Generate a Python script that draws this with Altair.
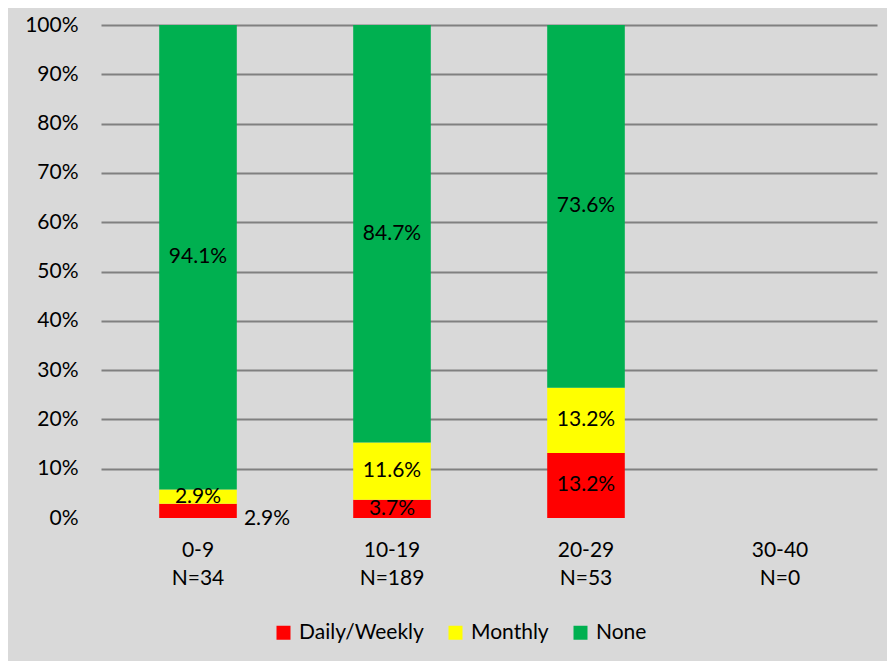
import altair as alt
import pandas as pd

groups = ["0-9", "10-19", "20-29", "30-40"]
n_values = [34, 189, 53, 0]
series = ["Daily/Weekly", "Monthly", "None"]
daily = [2.9, 3.7, 13.2, None]
monthly = [2.9, 11.6, 13.2, None]
none_vals = [94.1, 84.7, 73.6, None]
colors = ["#ff0000", "#ffff00", "#00b050"]
y_ticks = [0, 0.1, 0.2, 0.3, 0.4, 0.5, 0.6, 0.7, 0.8, 0.9, 1.0]

domain = [f"{g}|N={n}" for g, n in zip(groups, n_values)]
rows = []
for i, g in enumerate(groups):
    for k, (s, vals) in enumerate(zip(series, [daily, monthly, none_vals])):
        if vals[i] is not None:
            rows.append({"group": domain[i], "series": s, "order": k, "value": vals[i]})
df = pd.DataFrame(rows)

FONT = "Lato"
FS = 21

x_enc = alt.X(
    "group:N",
    scale=alt.Scale(domain=domain, paddingInner=0.6, paddingOuter=0.3),
    axis=alt.Axis(
        title=None, labelExpr="split(datum.label, '|')", labelAngle=0,
        domain=False, ticks=False, labelPadding=21, labelFontSize=FS,
        labelLineHeight=28, labelFont=FONT, labelColor="black",
        labelBaseline="top", grid=False,
    ),
)
y_axis = alt.Axis(
    title=None, values=y_ticks, format=".0%", domain=False, ticks=False,
    labelPadding=23, labelFontSize=FS, labelFont=FONT, labelColor="black",
    grid=True, gridColor="#808080", gridWidth=2,
    gridOpacity={"expr": "datum.value == 0 ? 0 : 1"},
)
y_scale = alt.Scale(domain=[0, 1])

base = alt.Chart(df)

bars = base.mark_bar().encode(
    x=x_enc,
    y=alt.Y("value:Q", stack="normalize", scale=y_scale, axis=y_axis),
    color=alt.Color(
        "series:N",
        scale=alt.Scale(domain=series, range=colors),
        legend=alt.Legend(
            title=None, orient="none", legendX=172, legendY=597,
            direction="horizontal", symbolType="square", symbolSize=196,
            symbolStrokeWidth=0, symbolOpacity=1, labelFontSize=FS, labelFont=FONT,
            labelColor="black", labelOffset=5, columnPadding=21, padding=0,
        ),
    ),
    order=alt.Order("order:Q", sort="ascending"),
)

labeled = base.transform_joinaggregate(
    total="sum(value)", groupby=["group"]
).transform_window(
    cum="sum(value)", sort=[alt.SortField("order", order="ascending")],
    groupby=["group"], frame=[None, 0]
).transform_calculate(
    mid="(datum.cum - datum.value / 2) / datum.total",
    label="format(datum.value, '.1f') + '%'",
)

first_group = domain[0]
cond_out = f"datum.group == '{first_group}' && datum.series == '{series[0]}'"

text_in = labeled.transform_filter(f"!({cond_out})").mark_text(
    font=FONT, fontSize=FS, color="black"
).encode(
    x=x_enc,
    y=alt.Y("mid:Q", scale=y_scale, axis=y_axis),
    text="label:N",
)

text_out = labeled.transform_filter(cond_out).mark_text(
    font=FONT, fontSize=FS, color="black", dx=69, dy=8
).encode(
    x=x_enc,
    y=alt.Y("mid:Q", scale=y_scale, axis=y_axis),
    text="label:N",
)

chart = alt.layer(bars, text_in, text_out).properties(
    width=776, height=493,
    background="#d9d9d9",
    padding={"left": 93, "top": 17, "right": 10, "bottom": 143},
    autosize=alt.AutoSizeParams(type="none"),
).configure_view(stroke=None)

chart.save("out.html", embed_options={"renderer": "svg", "actions": False})
